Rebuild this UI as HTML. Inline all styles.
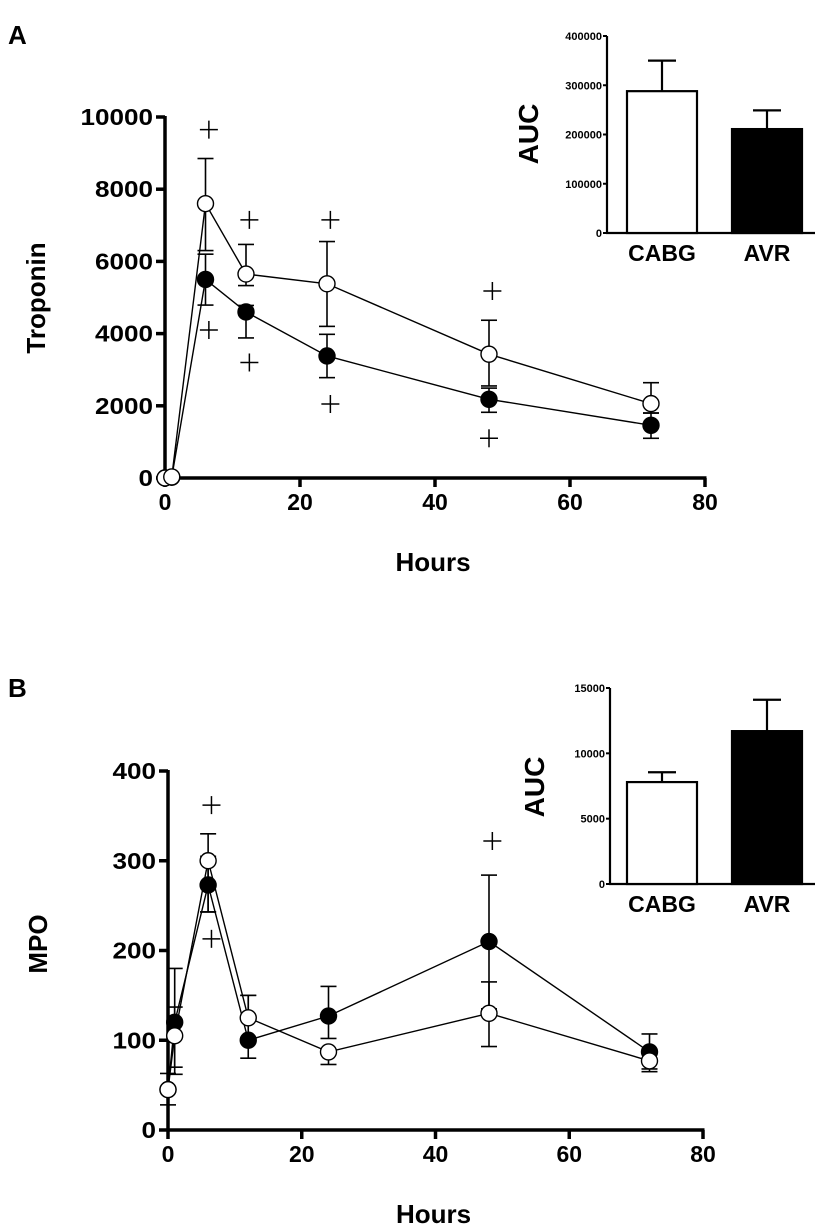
<!DOCTYPE html>
<html><head><meta charset="utf-8"><style>
html,body{margin:0;padding:0;background:#fff}
svg{display:block;font-family:"Liberation Sans",Arial,sans-serif;font-weight:bold}
</style></head><body>
<svg id="s" width="827" height="1232" viewBox="0 0 827 1232" xmlns="http://www.w3.org/2000/svg">
<text x="8" y="44" font-size="26">A</text>
<text x="8" y="697" font-size="26">B</text>
</svg>
<script>
// Panel A data
const hours = [0, 1, 6, 12, 24, 48, 72];
const tropCabg = [0, 30, 7600, 5650, 5380, 3430, 2060];
const tropCabgHi = [0, 30, 8850, 6470, 6550, 4370, 2640];
const tropCabgLo = [0, 30, 6300, 5330, 4200, 2550, 1800];
const tropAvr = [0, 20, 5500, 4600, 3380, 2180, 1460];
const tropAvrHi = [0, 20, 6200, 4780, 3980, 2490, 1800];
const tropAvrLo = [0, 20, 4790, 3880, 2780, 1820, 1100];
const tropPlusX = [6.5, 12.5, 24.5, 48.5, 6.5, 12.5, 24.5, 48];
const tropPlusY = [9650, 7150, 7150, 5180, 4100, 3200, 2050, 1100];
const tropTicks = [0, 2000, 4000, 6000, 8000, 10000];
const hourTicks = [0, 20, 40, 60, 80];
// Panel B data
const mpoCabg = [45, 105, 300, 125, 87, 130, 77];
const mpoCabgHi = [45, 137, 305, 150, 87, 165, 77];
const mpoCabgLo = [45, 70, 243, 125, 73, 93, 65];
const mpoAvr = [45, 120, 273, 100, 127, 210, 87];
const mpoAvrHi = [63, 180, 330, 150, 160, 284, 107];
const mpoAvrLo = [28, 62, 243, 80, 102, 135, 68];
const mpoPlusX = [6.5, 6.5, 48.5];
const mpoPlusY = [362, 213, 322];
const mpoTicks = [0, 100, 200, 300, 400];
// Insets
const groups = ['CABG', 'AVR'];
const aucTrop = [288000, 211000];
const aucTropErr = [350000, 249000];
const aucTropTicks = [0, 100000, 200000, 300000, 400000];
const aucMpo = [7800, 11700];
const aucMpoErr = [8550, 14100];
const aucMpoTicks = [0, 5000, 10000, 15000];

const svg = document.getElementById('s');
const NS = 'http://www.w3.org/2000/svg';
function mk(tag, attrs, name, inter, text) {
  const e = document.createElementNS(NS, tag);
  for (const k in attrs) e.setAttribute(k, attrs[k]);
  
  
  if (text !== undefined) e.textContent = text;
  svg.appendChild(e);
  return e;
}
function line(x1, y1, x2, y2, w, name) {
  return mk('line', {x1, y1, x2, y2, stroke: '#000', 'stroke-width': w}, name, false);
}

function mainPanel(o) {
  const sx = v => o.x0 + (v - 0) / 80 * (o.x1 - o.x0);
  const sy = v => o.y0 - v / o.ymax * (o.y0 - o.yTop);
  line(o.x0, o.yTop - 1, o.x0, o.y0 + 1.5, 3.5, 'y-axis');
  line(o.x0 - 1.5, o.y0, o.x1 + 1.5, o.y0, 3.5, 'x-axis');
  o.yt.forEach(t => {
    line(o.x0 - 9, sy(t), o.x0, sy(t), 3.5, 'y-tick');
    mk('text', {x: o.x0 - 12, y: sy(t) + 8, 'font-size': 23, 'text-anchor': 'end', textLength: String(t).length * 14.5, lengthAdjust: 'spacingAndGlyphs'}, 'y-tick-label', false, t);
  });
  hourTicks.forEach(t => {
    line(sx(t), o.y0, sx(t), o.y0 + 9, 3.5, 'x-tick');
    mk('text', {x: sx(t), y: o.y0 + 32, 'font-size': 23, 'text-anchor': 'middle'}, 'x-tick-label', false, t);
  });
  mk('text', {x: (o.x0 + o.x1) / 2 - 2, y: o.y0 + 93, 'font-size': 26, 'text-anchor': 'middle'}, 'x-axis-title', false, 'Hours');
  mk('text', {x: 0, y: 0, 'font-size': 26, 'text-anchor': 'middle', transform: `translate(${o.titleX},${o.titleY}) rotate(-90)`}, 'y-axis-title', false, o.title);
  function errs(vals, hi, lo, nm) {
    hours.forEach((h, i) => {
      const x = sx(h);
      if (hi[i] > vals[i]) { line(x, sy(vals[i]), x, sy(hi[i]), 1.6, nm + '-error'); line(x - 8, sy(hi[i]), x + 8, sy(hi[i]), 1.6, nm + '-error-cap'); }
      if (lo[i] < vals[i]) { line(x, sy(vals[i]), x, sy(lo[i]), 1.6, nm + '-error'); line(x - 8, sy(lo[i]), x + 8, sy(lo[i]), 1.6, nm + '-error-cap'); }
    });
  }
  errs(o.a, o.aHi, o.aLo, 'cabg');
  errs(o.b, o.bHi, o.bLo, 'avr');
  mk('polyline', {points: hours.map((h, i) => sx(h) + ',' + sy(o.b[i])).join(' '), fill: 'none', stroke: '#000', 'stroke-width': 1.4}, 'avr-line', false);
  mk('polyline', {points: hours.map((h, i) => sx(h) + ',' + sy(o.a[i])).join(' '), fill: 'none', stroke: '#000', 'stroke-width': 1.4}, 'cabg-line', false);
  hours.forEach((h, i) => mk('circle', {cx: sx(h), cy: sy(o.b[i]), r: 8, fill: '#000', stroke: '#000', 'stroke-width': 1.4}, 'avr-point', false));
  hours.forEach((h, i) => mk('circle', {cx: sx(h), cy: sy(o.a[i]), r: 8, fill: '#fff', stroke: '#000', 'stroke-width': 1.4}, 'cabg-point', false));
  o.px.forEach((h, i) => {
    const x = sx(h), y = sy(o.py[i]);
    line(x - 9, y, x + 9, y, 1.5, 'significance-plus');
    line(x, y - 9, x, y + 9, 1.5, 'significance-plus');
  });
}

function inset(o) {
  const sy = v => o.y0 - v / o.ymax * (o.y0 - o.yTop);
  line(o.x0, o.yTop, o.x0, o.y0 + 1, 2.2, 'inset-y-axis');
  line(o.x0 - 1, o.y0, 815, o.y0, 2.2, 'inset-x-axis');
  o.yt.forEach(t => {
    line(o.x0 - 4, sy(t), o.x0, sy(t), 2, 'inset-y-tick');
    mk('text', {x: o.x0 - 5, y: sy(t) + 4, 'font-size': 11, 'text-anchor': 'end'}, 'inset-y-tick-label', false, t);
  });
  const bx = [627, 732], bw = 70;
  groups.forEach((g, i) => {
    const x = bx[i], c = x + bw / 2;
    line(c, sy(o.v[i]), c, sy(o.e[i]), 2.2, 'inset-error');
    line(c - 14, sy(o.e[i]), c + 14, sy(o.e[i]), 2.2, 'inset-error-cap');
    mk('rect', {x, y: sy(o.v[i]), width: bw, height: o.y0 - sy(o.v[i]), fill: i ? '#000' : '#fff', stroke: '#000', 'stroke-width': 2.2}, 'bar-' + g.toLowerCase(), false);
    mk('text', {x: c, y: o.y0 + 28, 'font-size': 23, 'text-anchor': 'middle'}, 'inset-x-label', false, g);
  });
  mk('text', {x: 0, y: 0, 'font-size': 28, 'text-anchor': 'middle', transform: `translate(${o.tx},${o.ty}) rotate(-90)`}, 'inset-y-axis-title', false, 'AUC');
}

mainPanel({x0: 165, x1: 705, y0: 478, yTop: 117, ymax: 10000, yt: tropTicks, title: 'Troponin', titleX: 45, titleY: 298,
  a: tropCabg, aHi: tropCabgHi, aLo: tropCabgLo, b: tropAvr, bHi: tropAvrHi, bLo: tropAvrLo, px: tropPlusX, py: tropPlusY});
mainPanel({x0: 168, x1: 703, y0: 1130, yTop: 771, ymax: 400, yt: mpoTicks, title: 'MPO', titleX: 47, titleY: 944,
  a: mpoCabg, aHi: mpoCabgHi, aLo: mpoCabgLo, b: mpoAvr, bHi: mpoAvrHi, bLo: mpoAvrLo, px: mpoPlusX, py: mpoPlusY});
inset({x0: 607, y0: 233, yTop: 36, ymax: 400000, yt: aucTropTicks, v: aucTrop, e: aucTropErr, tx: 538, ty: 134});
inset({x0: 610, y0: 884, yTop: 688, ymax: 15000, yt: aucMpoTicks, v: aucMpo, e: aucMpoErr, tx: 544, ty: 787});
</script>
</body></html>
